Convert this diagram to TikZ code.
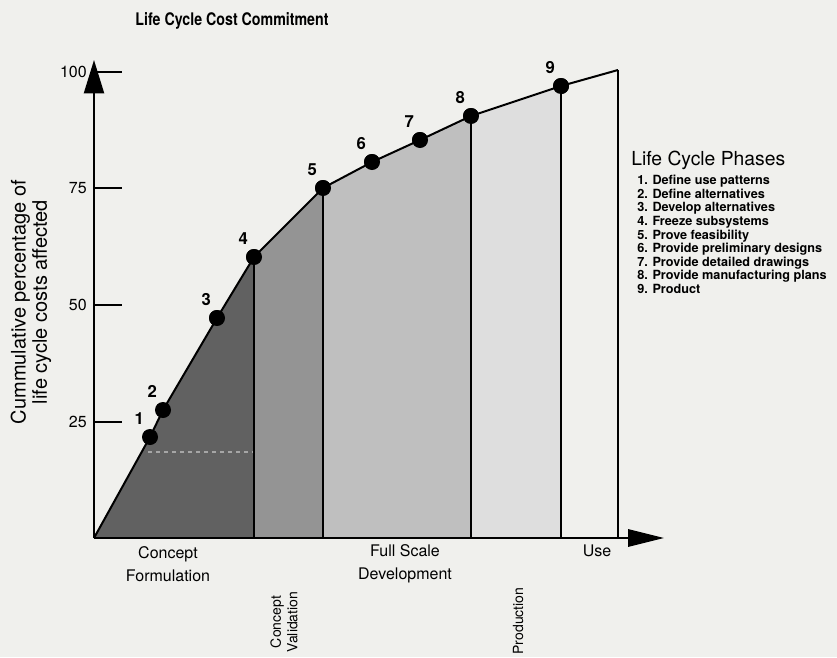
\documentclass[tikz,border=0pt]{standalone}
\usepackage{fontspec}
\setmainfont{TeX Gyre Heros}
\usetikzlibrary{arrows.meta,positioning}

\definecolor{paper}{RGB}{240,240,237}
\definecolor{phaseA}{gray}{0.38}
\definecolor{phaseB}{gray}{0.58}
\definecolor{phaseC}{gray}{0.75}
\definecolor{phaseD}{gray}{0.87}

\begin{document}
\begin{tikzpicture}[
  x=0.75pt, y=-0.75pt,
  axis/.style={line width=1.6pt},
  tick/.style={line width=1.4pt},
  dot/.style={circle, fill=black, inner sep=0pt, minimum size=12pt,
    label distance=3pt, label={[font=\fontsize{12.5}{14}\selectfont\bfseries]100:#1}},
  divider/.style={line width=0.8pt},
  ticklabel/.style={anchor=east, inner sep=0pt, font=\fontsize{12}{14}\selectfont},
  phaselabel/.style={align=center, font=\fontsize{12}{17}\selectfont},
  sidelabel/.style={rotate=90, align=center, font=\fontsize{10.5}{12.5}\selectfont}
]

% paper
\fill[paper] (0,0) rectangle (837,657);
\useasboundingbox (0,0) rectangle (837,657);

% points on the curve
\coordinate (o) at (94,538);
\node[dot=1, minimum size=11pt] (p1) at (150,437) {};
\node[dot=2, minimum size=11pt] (p2) at (163,410) {};
\node[dot=3] (p3) at (217,318) {};
\node[dot=4] (p4) at (254,257) {};
\node[dot=5] (p5) at (323,188) {};
\node[dot=6] (p6) at (372,162) {};
\node[dot=7] (p7) at (420,140) {};
\node[dot=8] (p8) at (471,116) {};
\node[dot=9] (p9) at (561,86) {};
\coordinate (e) at (618,70);
\coordinate (b4) at (254,538);
\coordinate (b5) at (323,538);
\coordinate (b8) at (471,538);
\coordinate (b9) at (561,538);
\coordinate (be) at (618,538);

% shaded phases
\fill[phaseA] (o) -- (p1.center) -- (p2.center) -- (p3.center) -- (p4.center) -- (b4) -- cycle;
\fill[phaseB] (p4.center) -- (p5.center) -- (b5) -- (b4) -- cycle;
\fill[phaseC] (p5.center) -- (p6.center) -- (p7.center) -- (p8.center) -- (b8) -- (b5) -- cycle;
\fill[phaseD] (p8.center) -- (p9.center) -- (b9) -- (b8) -- cycle;
\draw[gray!70, dashed, line width=0.8pt] (148,452) -- (254,452);

% dividers
\draw[divider] (p4.center) -- (b4);
\draw[divider] (p5.center) -- (b5);
\draw[divider] (p8.center) -- (b8);
\draw[divider] (p9.center) -- (b9);
\draw[divider] (e) -- (be);

% curve
\draw[line width=1.5pt] (o) -- (p1.center) -- (p2.center) -- (p3.center) -- (p4.center)
  -- (p5.center) -- (p6.center) -- (p7.center) -- (p8.center) -- (p9.center) -- (e);
\foreach \p in {p1,p2,p3,p4,p5,p6,p7,p8,p9}
  \fill (\p) circle (6pt);
\fill (p1) circle (5.5pt);
\fill (p2) circle (5.5pt);

% axes
\coordinate (ytop) at (94,60);
\coordinate (xend) at (664,538);
\draw[axis, -{Triangle[width=15pt,length=25pt]}] (o) -- (ytop);
\draw[axis, -{Triangle[width=13pt,length=27pt]}] (o) -- (xend);

% ticks
\foreach \v/\y in {100/72, 75/188, 50/305, 25/422} {
  \draw[tick] (94,\y) -- (122,\y);
  \node[ticklabel] at (87,\y) {\v};
}

% texts
\node[xscale=0.82, transform shape, font=\fontsize{13}{15}\selectfont\bfseries] (title) at (232,21)
  {Life Cycle Cost Commitment};
\node[rotate=90, align=center, font=\fontsize{15}{16}\selectfont] (ylab) at (31,302)
  {Cummulative percentage of\\life cycle costs affected};
\node[phaselabel] (cf) at (168,564) {Concept\\Formulation};
\node[phaselabel] (fsd) at (405,564) {Full Scale\\Development};
\node[phaselabel] (use) at (597,551) {Use};
\node[sidelabel] (cv) at (284,622) {Concept\\Validation};
\node[sidelabel] (prod) at (518,621) {Production};

% legend
\node[anchor=west, inner sep=0pt, font=\fontsize{14.5}{16}\selectfont] (lcp) at (631,160) {Life Cycle Phases};
\node[anchor=north west, inner sep=0pt, align=left, font=\fontsize{9.5}{10.2}\selectfont\bfseries]
  (phases) at (637,175) {%
  1. Define use patterns\\
  2. Define alternatives\\
  3. Develop alternatives\\
  4. Freeze subsystems\\
  5. Prove feasibility\\
  6. Provide preliminary designs\\
  7. Provide detailed drawings\\
  8. Provide manufacturing plans\\
  9. Product};

\end{tikzpicture}
\end{document}
